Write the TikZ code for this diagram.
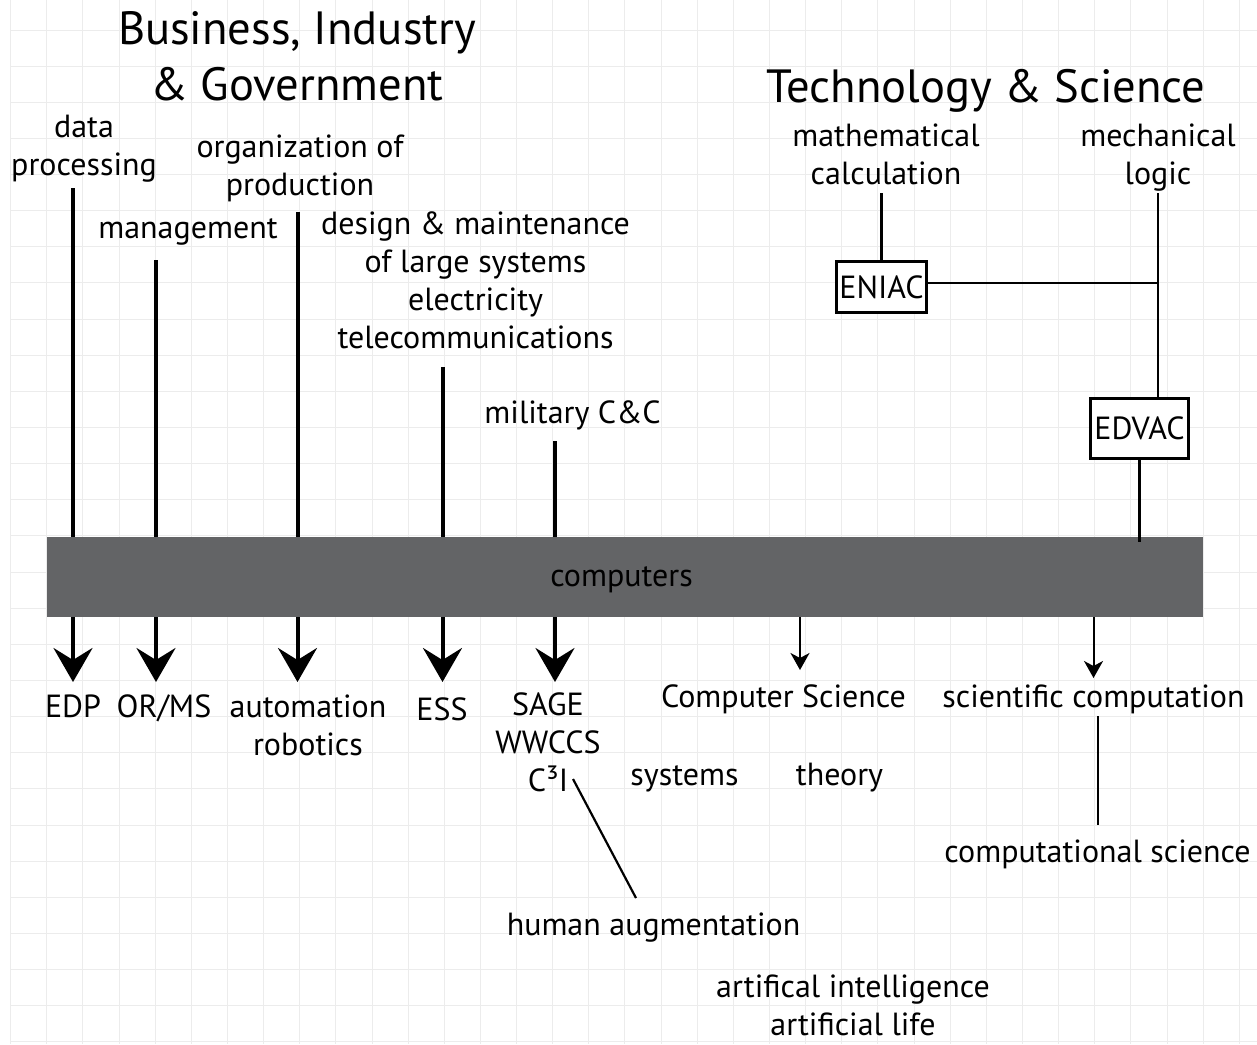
\documentclass[tikz,border=0pt]{standalone}
\usepackage{fontspec}
\setmainfont{PT Sans}
\usetikzlibrary{arrows.meta}
\definecolor{gridc}{RGB}{236,236,236}
\definecolor{barc}{RGB}{99,100,102}
\newcommand{\mlines}[1]{\vtop{\halign{\hfil##\hfil\cr#1\crcr}}}
\newcommand{\bodyfont}{\fontsize{32}{38.3}\selectfont}
\newcommand{\titlefont}{\fontsize{46.6}{56}\selectfont}
\begin{document}
\begin{tikzpicture}[x=1pt,y=-1pt,
 lbl/.style={font=\bodyfont, inner sep=0pt, anchor=base},
 ttl/.style={font=\titlefont, inner sep=0pt, anchor=base},
 feed/.style={line width=4pt},
 bigarrow/.style={line width=4pt, -{Stealth[length=34pt,width=39pt,inset=12pt]}},
 smallarrow/.style={line width=2pt, -{Stealth[length=17pt,width=19pt,inset=5pt]}},
 link/.style={line width=2.6pt},
 thinlink/.style={line width=2.2pt},
 machine/.style={draw, fill=white, line width=2.6pt, inner sep=0pt, font=\bodyfont},
]
\useasboundingbox (0,0) rectangle (1257,1044);
\fill[white] (0,0) rectangle (1257,1044);
% grid
\foreach \k in {0,...,34} \draw[gridc, line width=1pt] ({10.6+36.14*\k},0) -- ({10.6+36.14*\k},1044);
\foreach \k in {0,...,28} \draw[gridc, line width=1pt] (10.6,{30+36.14*\k}) -- (1257,{30+36.14*\k});

% titles
\node[ttl] (bigTitle) at (297,44) {\mlines{Business, Industry\cr\& Government}};
\node[ttl] (tsTitle) at (986,102) {Technology \& Science};

% upper labels
\node[lbl] (dp) at (84,137) {\mlines{data\cr processing}};
\node[lbl] (mg) at (188,238) {management};
\node[lbl] (op) at (300,157) {\mlines{organization of\cr production}};
\node[lbl] (dm) at (475.5,234) {\mlines{design \& maintenance\cr of large systems\cr electricity\cr telecommunications}};
\node[lbl] (mil) at (572.5,423) {military C\&C};
\node[lbl] (mc) at (886,146) {\mlines{mathematical\cr calculation}};
\node[lbl] (ml) at (1158,146) {\mlines{mechanical\cr logic}};

% bar
\node[fill=barc, minimum width=1156pt, minimum height=80pt, inner sep=0pt] (comp) at (625,577) {};
\node[lbl] (compText) at (621.5,586) {computers};

% machines
\node[machine, minimum width=90.5pt, minimum height=51.5pt] (eniac) at (881.5,287) {ENIAC};
\node[machine, minimum width=98.5pt, minimum height=59.5pt] (edvac) at (1139.5,428.5) {EDVAC};

% lower labels
\node[lbl] (edp) at (73,717) {EDP};
\node[lbl] (orms) at (164,717) {OR/MS};
\node[lbl] (auto) at (308,717) {\mlines{automation\cr robotics}};
\node[lbl] (ess) at (442,720) {ESS};
\node[lbl] (sage) at (548,715) {\mlines{SAGE\cr WWCCS\cr C³I}};
\node[lbl] (cs) at (783.5,707) {Computer Science};
\node[lbl] (sc) at (1093.5,707) {scientific computation};
\node[lbl] (sys) at (684.5,785) {systems};
\node[lbl] (thy) at (839.5,785) {theory};
\node[lbl] (ha) at (653.5,935) {human augmentation};
\node[lbl] (ai) at (853,997) {\mlines{artifical intelligence\cr artificial life}};
\node[lbl] (cps) at (1097.5,862) {computational science};

% feeds into the bar
\coordinate (dpT) at (73,188);
\coordinate (mgT) at (156,260);
\coordinate (opT) at (297.5,212);
\coordinate (dmT) at (442.5,367);
\coordinate (milT) at (555,441);
\foreach \c in {dpT,mgT,opT,dmT,milT} \draw[feed] (\c) -- (\c |- comp.north);

% arrows out of the bar
\coordinate (edpT) at (73,682);
\coordinate (ormsT) at (156,682);
\coordinate (autoT) at (297.5,682);
\coordinate (essT) at (442.5,682);
\coordinate (sageT) at (555,682);
\foreach \c in {edpT,ormsT,autoT,essT,sageT} \draw[bigarrow] (comp.south -| \c) -- (\c);
\coordinate (csT) at (800,670);
\coordinate (scT) at (1093.5,678);
\foreach \c in {csT,scT} \draw[smallarrow] (comp.south -| \c) -- (\c);

% technology side
\coordinate (mcT) at (881.5,193);
\coordinate (mlT) at (1158,193);
\coordinate (jn) at (1158,283);
\coordinate (edB) at (1139.5,542);
\draw[link] (mcT) -- (eniac.north);
\draw[link] (jn -| eniac.east) -- (jn);
\draw[link] (mlT) -- (mlT |- edvac.north);
\draw[link] (edvac.south) -- (edB);

% other links
\coordinate (hA) at (573,779);
\coordinate (hB) at (636,898);
\draw[thinlink] (hA) -- (hB);
\coordinate (scB) at (1098,716);
\coordinate (cpsT) at (1098,825);
\draw[link] (scB) -- (cpsT);
\end{tikzpicture}
\end{document}
